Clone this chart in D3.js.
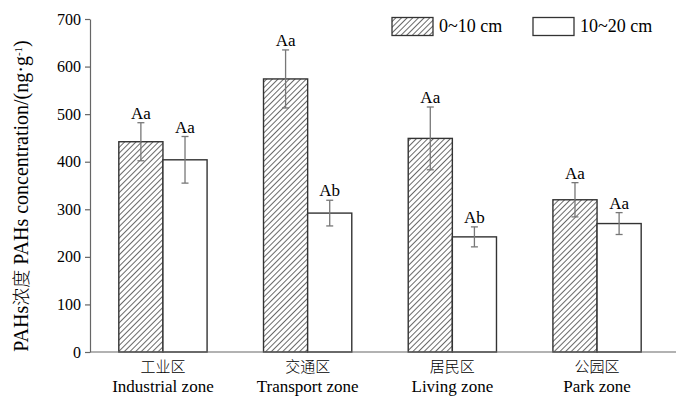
<!DOCTYPE html>
<html>
<head>
<meta charset="utf-8">
<script src="https://cdn.jsdelivr.net/npm/d3@7/dist/d3.min.js"></script>
<style>
  body { margin: 0; background: #fff; }
  text { font-family: "Liberation Serif", "Times New Roman", Times, "DejaVu Serif", serif; fill: #000; }
  .cn { font-family: "Noto Sans CJK SC", "Noto Sans CJK JP", sans-serif; }
</style>
</head>
<body>
<script>
var zonesCn = ["工业区", "交通区", "居民区", "公园区"];
var zonesEn = ["Industrial zone", "Transport zone", "Living zone", "Park zone"];
var depths = ["0~10 cm", "10~20 cm"];
var shallow = [442, 574, 449, 320];
var shallowErr = [40, 61, 66, 36];
var deep = [404, 292, 242, 270];
var deepErr = [49, 27, 21, 23];
var shallowSig = ["Aa", "Aa", "Aa", "Aa"];
var deepSig = ["Aa", "Ab", "Ab", "Aa"];
var yTicks = [0, 100, 200, 300, 400, 500, 600, 700];

var w = 700, h = 396;

var svg = d3.select("body").append("svg")
    .attr("width", w)
    .attr("height", h);

var defs = svg.append("defs");
var pat = defs.append("pattern")
    .attr("id", "hatch")
    .attr("patternUnits", "userSpaceOnUse")
    .attr("width", 4)
    .attr("height", 4)
    .attr("patternTransform", "rotate(45)");
pat.append("rect").attr("width", 4).attr("height", 4).attr("fill", "#fff");
pat.append("line")
    .attr("x1", 0).attr("y1", 0)
    .attr("x2", 0).attr("y2", 4)
    .attr("stroke", "#444")
    .attr("stroke-width", 1.6);

var xScale = d3.scaleBand()
    .domain(zonesCn)
    .range([90.6, 669.4])
    .paddingInner(0.39)
    .paddingOuter(0.195);

var yScale = d3.scaleLinear()
    .domain([0, 700])
    .range([352, 19]);

// y axis
var yAxis = svg.append("g")
    .attr("transform", "translate(90,0)")
    .call(d3.axisLeft(yScale).tickValues(yTicks).tickSize(5).tickSizeOuter(0).tickPadding(4));
yAxis.attr("font-family", null).attr("font-size", null);
yAxis.select(".domain").attr("stroke", "#666").attr("stroke-width", 1.2);
yAxis.selectAll(".tick line").attr("stroke", "#666").attr("stroke-width", 1.2);
yAxis.selectAll(".tick text")
    .style("font-size", "16px")
    .attr("fill", "#000");

var ylab = svg.append("text")
    .attr("transform", "translate(28,196) rotate(-90)")
    .attr("text-anchor", "middle")
    .style("font-size", "20px");
ylab.append("tspan").text("PAHs");
ylab.append("tspan").attr("class", "cn").style("font-weight", "300").style("font-size", "18px").text("浓度");
ylab.append("tspan").text(" PAHs concentration/(ng·g");
ylab.append("tspan").attr("baseline-shift", "super").style("font-size", "11px").text("-1");
ylab.append("tspan").text(")");

var bw = xScale.bandwidth() / 2;

function drawSeries(vals, errs, sigs, offset, fill) {
  svg.selectAll(null)
      .data(vals)
      .enter().append("rect")
      .attr("x", function(d, i) { return xScale(zonesCn[i]) + offset; })
      .attr("y", function(d) { return yScale(d); })
      .attr("width", bw)
      .attr("height", function(d) { return yScale(0) - yScale(d); })
      .attr("fill", fill)
      .attr("stroke", "#333")
      .attr("stroke-width", 1.4);

  var eb = svg.selectAll(null)
      .data(vals)
      .enter().append("g")
      .attr("stroke", "#777")
      .attr("stroke-width", 1.3);
  eb.append("line")
      .attr("x1", function(d, i) { return xScale(zonesCn[i]) + offset + bw / 2; })
      .attr("x2", function(d, i) { return xScale(zonesCn[i]) + offset + bw / 2; })
      .attr("y1", function(d, i) { return yScale(d + errs[i]); })
      .attr("y2", function(d, i) { return yScale(d - errs[i]); });
  [1, -1].forEach(function(s) {
    eb.append("line")
        .attr("x1", function(d, i) { return xScale(zonesCn[i]) + offset + bw / 2 - 3.5; })
        .attr("x2", function(d, i) { return xScale(zonesCn[i]) + offset + bw / 2 + 3.5; })
        .attr("y1", function(d, i) { return yScale(d + s * errs[i]); })
        .attr("y2", function(d, i) { return yScale(d + s * errs[i]); });
  });

  svg.selectAll(null)
      .data(vals)
      .enter().append("text")
      .attr("x", function(d, i) { return xScale(zonesCn[i]) + offset + bw / 2; })
      .attr("y", function(d, i) { return yScale(d + errs[i]) - 4; })
      .attr("text-anchor", "middle")
      .style("font-size", "17px")
      .text(function(d, i) { return sigs[i]; });
}

drawSeries(shallow, shallowErr, shallowSig, 0, "url(#hatch)");
drawSeries(deep, deepErr, deepSig, bw, "#fff");

// x axis line
svg.append("line")
    .attr("x1", 90).attr("x2", 676)
    .attr("y1", yScale(0)).attr("y2", yScale(0))
    .attr("stroke", "#666")
    .attr("stroke-width", 1.2);

zonesCn.forEach(function(z, i) {
  var cx = xScale(z) + xScale.bandwidth() / 2;
  svg.append("text")
      .attr("class", "cn")
      .attr("x", cx).attr("y", 372)
      .attr("text-anchor", "middle")
      .style("font-size", "15px")
      .style("font-weight", "300")
      .text(z);
  svg.append("text")
      .attr("x", cx).attr("y", 392)
      .attr("text-anchor", "middle")
      .style("font-size", "17px")
      .text(zonesEn[i]);
});

// legend
var legend = svg.append("g");
var lx = [392, 533];
depths.forEach(function(d, i) {
  legend.append("rect")
      .attr("x", lx[i]).attr("y", 17.5)
      .attr("width", 41).attr("height", 18)
      .attr("fill", i === 0 ? "url(#hatch)" : "#fff")
      .attr("stroke", "#333")
      .attr("stroke-width", 1.3);
  legend.append("text")
      .attr("x", lx[i] + 47).attr("y", 32)
      .style("font-size", "18px")
      .text(d);
});
</script>
</body>
</html>
